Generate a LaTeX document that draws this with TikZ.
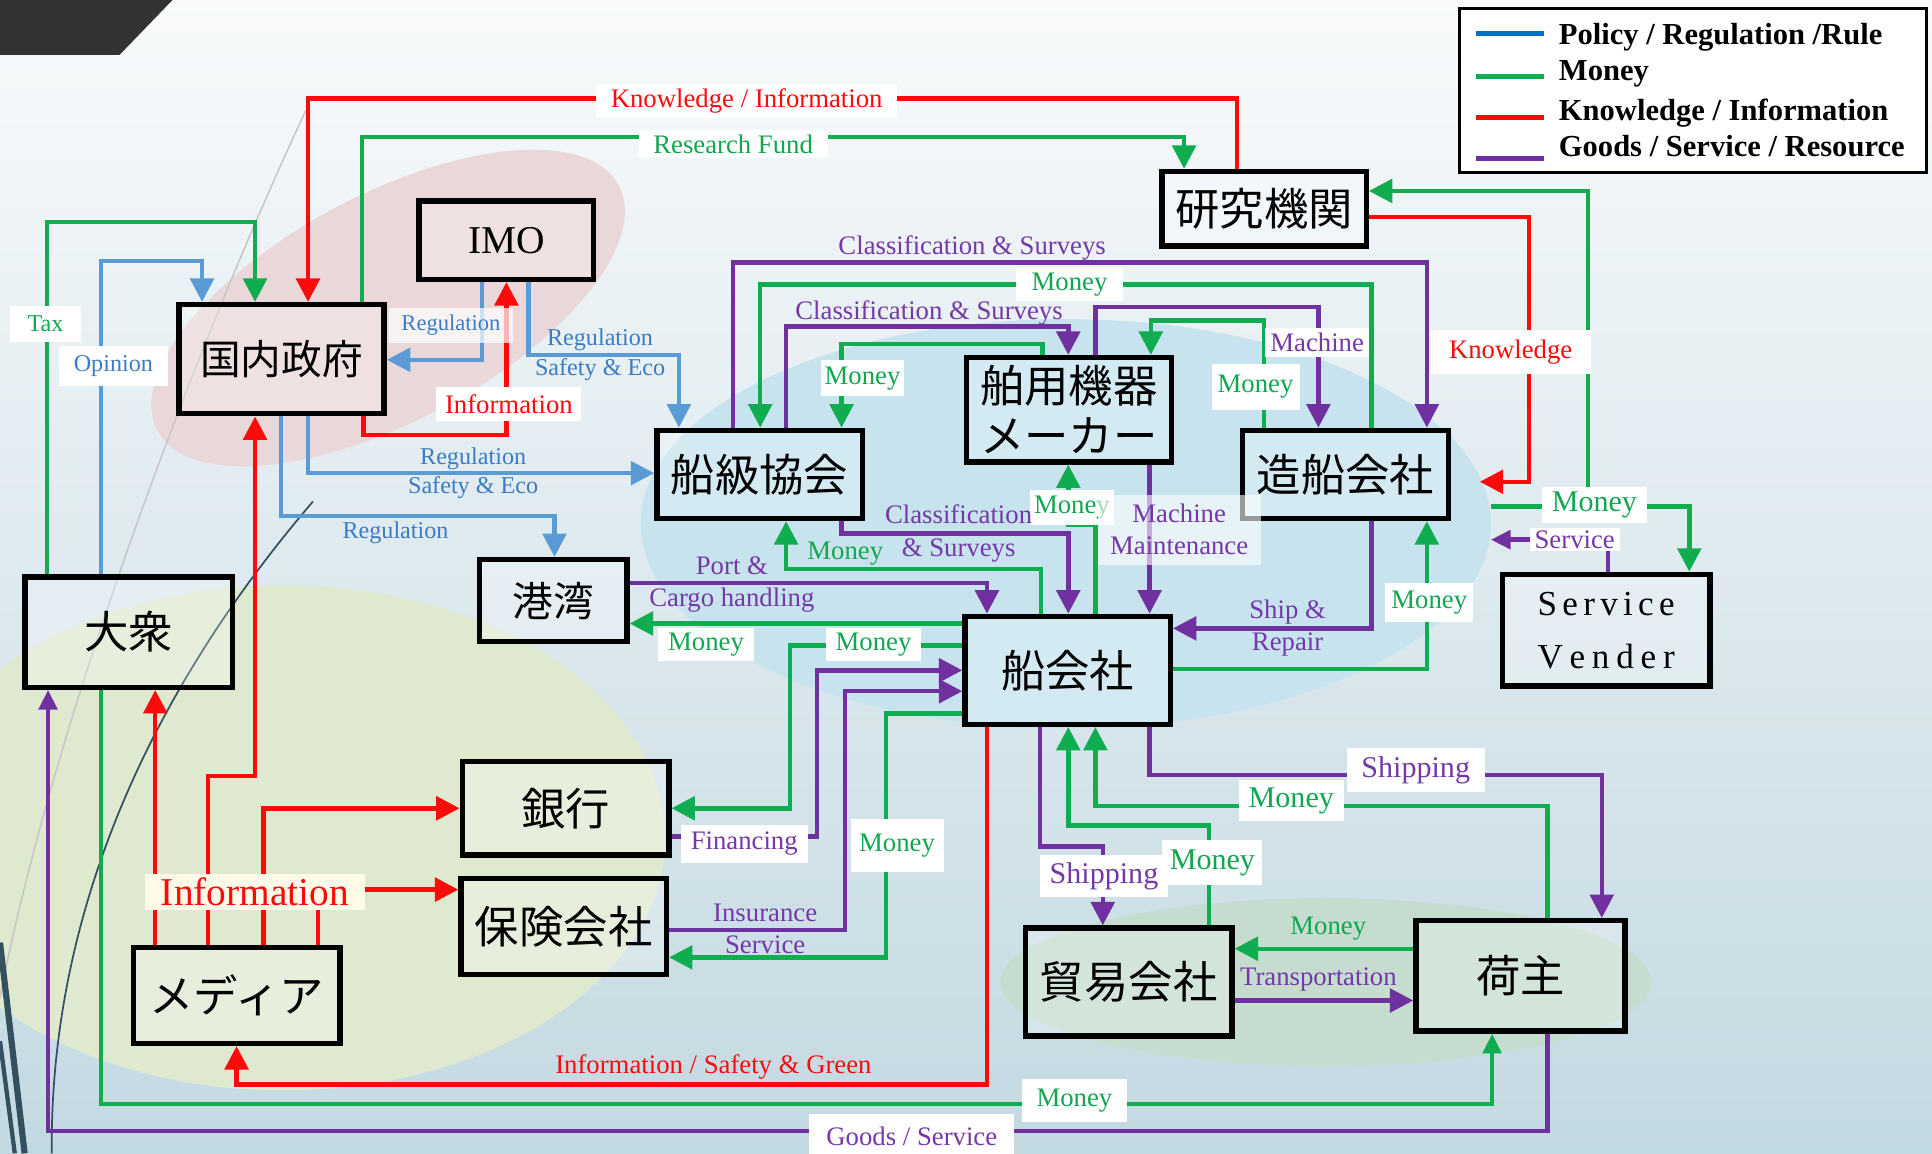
\documentclass[tikz,border=0pt]{standalone}
\usepackage{fontspec}
\usepackage{graphicx}
\setmainfont{Liberation Serif}
\newfontfamily\cjk{Noto Sans CJK JP}
\usetikzlibrary{arrows.meta}
\definecolor{cpol}{HTML}{5B9BD5}
\definecolor{cmon}{HTML}{10AD50}
\definecolor{ckno}{HTML}{FF0A0A}
\definecolor{cgoo}{HTML}{7030A0}
\definecolor{tpol}{HTML}{3A7CC6}
\definecolor{tmon}{HTML}{12A650}
\definecolor{tgoo}{HTML}{7438A8}
\definecolor{lpol}{HTML}{0070C0}
\definecolor{bgtop}{HTML}{F8FAFB}
\definecolor{bgbot}{HTML}{C3D9E2}
\definecolor{epink}{HTML}{EAD7D9}
\definecolor{eblue}{HTML}{C6E3EE}
\definecolor{eyg}{HTML}{DFE9D0}
\definecolor{egr}{HTML}{C5DCCF}
\definecolor{cdark}{HTML}{333333}
\definecolor{ccurve}{HTML}{34505F}
\definecolor{cream}{HTML}{FFFBE8}
\tikzset{
  box/.style={draw=black, line width=4.4pt, fill=white, fill opacity=0.25, text opacity=1,
    inner sep=0pt, align=center, font=\cjk\fontsize{36}{41}\selectfont},
  wh/.style n args={2}{minimum width=#1pt-4.4pt, minimum height=#2pt-4.4pt},
  ln/.style={line width=3.6pt},
  pol/.style={ln, draw=cpol},
  mon/.style={ln, draw=cmon},
  kno/.style={ln, draw=ckno},
  goo/.style={ln, draw=cgoo},
  arr/.style={-{Triangle[width=19pt,length=19pt]}},
  sarr/.style={-{Triangle[width=15pt,length=16pt]}},
  lab/.style={font=\fontsize{21.7}{26}\selectfont, inner sep=0pt, align=center},
  big/.style={font=\fontsize{24.4}{28}\selectfont},
  sml/.style={font=\fontsize{19.6}{24}\selectfont},
  wbg/.style={fill=white, inner xsep=#1, inner ysep=4pt},
  wbg/.default=6pt,
  lgt/.style={anchor=base west, inner sep=0pt, font=\bfseries\fontsize{24.8}{28}\selectfont},
}
\begin{document}
\begin{tikzpicture}[x=1pt,y=-1pt]
\useasboundingbox (0,0) rectangle (1568,936);
% background
\shade[top color=bgtop, bottom color=bgbot] (0,0) rectangle (1568,936);
\fill[epink, rotate around={28:(315,250)}] (315,250) ellipse [x radius=212, y radius=92];
\fill[eblue] (865,425) ellipse [x radius=345, y radius=166];
\fill[eyg] (230,680) ellipse [x radius=310, y radius=205];
\fill[egr] (1076,797) ellipse [x radius=264, y radius=68];
% slide decoration
\fill[cdark] (0,0) -- (140,0) -- (97,44.6) -- (0,44.6) -- cycle;
\draw[gray!45, line width=1.2pt] (248,90) .. controls (150,300) and (40,600) .. (0,810);
\draw[ccurve, line width=1.4pt] (254,407) .. controls (140,540) and (40,720) .. (42,936);
\draw[ccurve, line width=5pt] (0,765) -- (20,936);
\draw[ccurve, line width=3.5pt] (0,845) -- (12,936);

% boxes
\node[box, wh={171}{93}, font=\cjk\fontsize{33}{38}\selectfont] (gov) at (228.5,291.5) {国内政府};
\node[box, wh={146}{68}, font=\fontsize{32}{36}\selectfont] (imo) at (411,195) {IMO};
\node[box, wh={170}{65}] (ken) at (1026,169.5) {研究機関};
\node[box, wh={171}{76}] (cls) at (616.5,385) {船級協会};
\node[box, wh={171}{89}] (mak) at (867.5,332.5) {舶用機器\\メーカー};
\node[box, wh={172}{76}] (zos) at (1092,385) {造船会社};
\node[box, wh={124}{71}, font=\cjk\fontsize{33}{38}\selectfont] (kow) at (449,487.5) {港湾};
\node[box, wh={171}{92}] (fun) at (866.5,544) {船会社};
\node[box, wh={173}{94}] (tai) at (104.5,513) {大衆};
\node[box, wh={173}{95}, font=\fontsize{28.5}{43}\selectfont] (sv) at (1303.5,511.5)
  {S\kern4.3pt e\kern4.3pt r\kern4.3pt v\kern4.3pt i\kern4.3pt c\kern4.3pt e\\V\kern5.5pt e\kern5.5pt n\kern5.5pt d\kern5.5pt e\kern5.5pt r};
\node[box, wh={172}{80}] (gin) at (459,656) {銀行};
\node[box, wh={171}{82}] (hok) at (457.5,752) {保険会社};
\node[box, wh={172}{82}] (med) at (192,808) {メディア};
\node[box, wh={172}{92}] (bou) at (916,797) {貿易会社};
\node[box, wh={174}{94}] (nin) at (1234,792) {荷主};

\coordinate (kT) at (1201,391);
\coordinate (mS) at (1210,411);
\coordinate (mJ) at (1289,411);
\coordinate (sT) at (1210,438);

% ---------- Knowledge / Information (red)
\draw[kno,arr] (ken.north -| 1004,0) -- (1004,80) -- (250,80) -- (250,0 |- gov.north);
\draw[kno,arr] (295,0 |- gov.south) -- (295,353) -- (411,353) -- (411,0 |- imo.south);
\draw[kno,arr] (ken.east |- 0,176) -- (1241,176) -- (1241,391) -- (kT);
\draw[kno,arr] (801,0 |- fun.south) -- (801,880) -- (192,880) -- (med.south);
\draw[kno,arr] (126,0 |- med.north) -- (126,0 |- tai.south);
\draw[kno,arr] (169,0 |- med.north) -- (169,630) -- (207,630) -- (207,0 |- gov.south);
\draw[kno,arr] (214,0 |- med.north) -- (214,656) -- (gin.west |- 0,656);
\draw[kno,arr] (258,0 |- med.north) -- (258,722) -- (hok.west |- 0,722);

% ---------- Money (green)
\draw[mon,arr] (294,0 |- gov.north) -- (294,111) -- (961,111) -- (961,0 |- ken.north);
\draw[mon,arr] (38,0 |- tai.north) -- (38,180) -- (207,180) -- (207,0 |- gov.north);
\draw[mon,sarr] (82,0 |- tai.south) -- (82,896) -- (1211,896) -- (1211,0 |- nin.south);
\draw[mon,arr] (mS) -- (1371,411) -- (1371,0 |- sv.north);
\draw[mon,arr] (mJ) -- (1289,155) -- (ken.east |- 0,155);
\draw[mon,arr] (1113,0 |- zos.north) -- (1113,231) -- (617,231) -- (617,0 |- cls.north);
\draw[mon,arr] (846,0 |- mak.north) -- (846,279) -- (683,279) -- (683,0 |- cls.north);
\draw[mon,arr] (1026,0 |- zos.north) -- (1026,260) -- (934,260) -- (934,0 |- mak.north);
\draw[mon,arr] (889,0 |- fun.north) -- (889,426) -- (867,426) -- (867,0 |- mak.south);
\draw[mon,arr] (845,0 |- fun.north) -- (845,462) -- (638,462) -- (638,0 |- cls.south);
\draw[mon,arr] (fun.west |- 0,506) -- (kow.east |- 0,506);
\draw[mon,arr] (fun.west |- 0,524) -- (641,524) -- (641,656) -- (gin.east |- 0,656);
\draw[mon,arr] (fun.west |- 0,579) -- (719,579) -- (719,777) -- (hok.east |- 0,777);
\draw[mon,arr] (981,0 |- bou.north) -- (981,670) -- (867,670) -- (867,0 |- fun.south);
\draw[mon,arr] (1256,0 |- nin.north) -- (1256,654) -- (889,654) -- (889,0 |- fun.south);
\draw[mon,arr] (fun.east |- 0,543) -- (1158,543) -- (1158,0 |- zos.south);
\draw[mon,arr] (nin.west |- 0,770) -- (bou.east |- 0,770);

% ---------- Goods / Service (purple)
\draw[goo,arr] (595,0 |- cls.north) -- (595,213) -- (1158,213) -- (1158,0 |- zos.north);
\draw[goo,arr] (638,0 |- cls.north) -- (638,265) -- (867,265) -- (867,0 |- mak.north);
\draw[goo,arr] (889,0 |- mak.north) -- (889,249) -- (1070,249) -- (1070,0 |- zos.north);
\draw[goo,arr] (683,0 |- cls.south) -- (683,433) -- (867,433) -- (867,0 |- fun.north);
\draw[goo,arr] (933,0 |- mak.south) -- (933,0 |- fun.north);
\draw[goo,arr] (kow.east |- 0,473) -- (801,473) -- (801,0 |- fun.north);
\draw[goo,arr] (gin.east |- 0,679) -- (663,679) -- (663,544) -- (fun.west |- 0,544);
\draw[goo,arr] (hok.east |- 0,755) -- (686,755) -- (686,561) -- (fun.west |- 0,561);
\draw[goo,arr] (1113,0 |- zos.south) -- (1113,510) -- (fun.east |- 0,510);
\draw[goo,sarr] (1305,0 |- sv.north) -- (1305,438) -- (sT);
\draw[goo,arr] (844,0 |- fun.south) -- (844,687) -- (895,687) -- (895,0 |- bou.north);
\draw[goo,arr] (933,0 |- fun.south) -- (933,629) -- (1300,629) -- (1300,0 |- nin.north);
\draw[goo,arr] (bou.east |- 0,812) -- (nin.west |- 0,812);
\draw[goo,sarr] (1256,0 |- nin.south) -- (1256,918) -- (39,918) -- (39,0 |- tai.south);

% ---------- Policy / Regulation (blue)
\draw[pol,arr] (82,0 |- tai.north) -- (82,212) -- (164,212) -- (164,0 |- gov.north);
\draw[pol,arr] (391,0 |- imo.south) -- (391,292) -- (gov.east |- 0,292);
\draw[pol,arr] (429,0 |- imo.south) -- (429,288) -- (551,288) -- (551,0 |- cls.north);
\draw[pol,arr] (250,0 |- gov.south) -- (250,384) -- (cls.west |- 0,384);
\draw[pol,arr] (228,0 |- gov.south) -- (228,419) -- (450,419) -- (450,0 |- kow.north);

% ---------- labels
\node[lab,wbg=12pt,text=ckno] (lKI) at (606,82) {Knowledge / Information};
\node[lab,wbg=12pt,text=tmon] (lRF) at (595,117) {Research Fund};
\node[lab,sml,wbg=14pt,inner ysep=8pt,text=tmon] (lTax) at (37,263) {Tax};
\node[lab,sml,wbg=12pt,inner ysep=8pt,text=tpol] (lOp) at (92,297) {Opinion};
\node[lab,font=\fontsize{18.3}{22}\selectfont,fill=white,fill opacity=0.7,text opacity=1,inner xsep=10pt,inner ysep=6pt,text=tpol] (lReg1) at (366,264) {Regulation};
\node[lab,wbg=7pt,inner ysep=6pt,text=ckno] (lInf1) at (413,328) {Information};
\node[lab,sml,text=tpol] (lReg2) at (487,288) {Regulation\\Safety \& Eco};
\node[lab,sml,text=tpol] (lReg3) at (384,384) {Regulation\\Safety \& Eco};
\node[lab,sml,text=tpol] (lReg4) at (321,432) {Regulation};
\node[lab,text=tgoo] (lCS1) at (789,201) {Classification \& Surveys};
\node[lab,wbg=13pt,text=tmon] (lM1) at (868,231) {Money};
\node[lab,text=tgoo] (lCS2) at (754,254) {Classification \& Surveys};
\node[lab,wbg=3pt,inner ysep=5pt,text=tmon] (lM2) at (700,307) {Money};
\node[lab,wbg=4pt,text=tgoo] (lMach) at (1069,278) {Machine};
\node[lab,wbg=5pt,inner ysep=9pt,text=tmon] (lM3) at (1019,314) {Money};
\node[lab,wbg=15pt,inner ysep=8pt,text=ckno] (lKn) at (1226,286) {Knowledge};
\node[lab,wbg=3pt,inner ysep=5pt,text=tmon] (lM4) at (870,412) {Money};
\node[lab,font=\fontsize{21.7}{27}\selectfont,text=tgoo] (lCS3) at (778,433) {Classification\\\& Surveys};
\node[lab,text=tmon] (lM5) at (686,449) {Money};
\node[lab,fill=white,fill opacity=0.6,text opacity=1,inner xsep=10pt,inner ysep=8pt,text=tgoo] (lMM) at (957,430) {Machine\\Maintenance};
\node[lab,text=tgoo] (lPort) at (594,474) {Port \&\\Cargo handling};
\node[lab,wbg=8pt,text=tmon] (lM6) at (573,523) {Money};
\node[lab,wbg=8pt,text=tmon] (lM7) at (709,523) {Money};
\node[lab,text=tgoo] (lShip) at (1045,510) {Ship \&\\Repair};
\node[lab,wbg=5pt,inner ysep=6pt,text=tmon] (lM8) at (1160,489) {Money};
\node[lab,big,wbg=8pt,text=tmon] (lM9) at (1294,410) {Money};
\node[lab,wbg=4pt,inner ysep=2pt,text=tgoo] (lSvc) at (1278,438) {Service};
\node[lab,big,wbg=12pt,inner ysep=7pt,text=tgoo] (lSh1) at (1149,625) {Shipping};
\node[lab,big,wbg=8pt,inner ysep=6pt,text=tmon] (lM10) at (1048,650) {Money};
\node[lab,big,wbg=8pt,inner ysep=6pt,text=tgoo] (lSh2) at (896,711) {Shipping};
\node[lab,big,wbg=6pt,inner ysep=8pt,text=tmon] (lM11) at (984,700) {Money};
\node[lab,wbg=8pt,inner ysep=6pt,text=tgoo] (lFin) at (604,685) {Financing};
\node[lab,wbg=7pt,inner ysep=12pt,text=tmon] (lM12) at (728,686) {Money};
\node[lab,text=tgoo] (lIns) at (621,754) {Insurance\\Service};
\node[lab,text=tmon] (lM13) at (1078,754) {Money};
\node[lab,text=tgoo] (lTr) at (1070,795) {Transportation};
\node[lab,text=ckno] (lISG) at (579,866) {Information / Safety \& Green};
\node[lab,wbg=12pt,inner ysep=8pt,text=tmon] (lM14) at (872,893) {Money};
\node[lab,wbg=14pt,inner ysep=10pt,text=tgoo] (lGS) at (740,922) {Goods / Service};
\node[lab,font=\fontsize{32}{36}\selectfont,fill=cream,inner xsep=13pt,inner ysep=3pt,text=ckno] (lInf2) at (207,724) {Information};

% ---------- legend
\node[draw=black, line width=2.5pt, fill=white, minimum width=379pt, minimum height=132.5pt, inner sep=0pt] (leg) at (1374.25,73.5) {};
\draw[line width=4pt, lpol] (1198,27) -- (1253,27);
\draw[line width=4pt, cmon] (1198,62) -- (1253,62);
\draw[line width=4pt, ckno] (1198,95) -- (1253,95);
\draw[line width=4pt, cgoo] (1198,128.5) -- (1253,128.5);
\node[lgt] (lg1) at (1265,36.5) {Policy / Regulation /Rule};
\node[lgt] (lg2) at (1265,65) {Money};
\node[lgt] (lg3) at (1265,97.5) {Knowledge / Information};
\node[lgt] (lg4) at (1265,127) {Goods / Service / Resource};
\end{tikzpicture}
\end{document}
